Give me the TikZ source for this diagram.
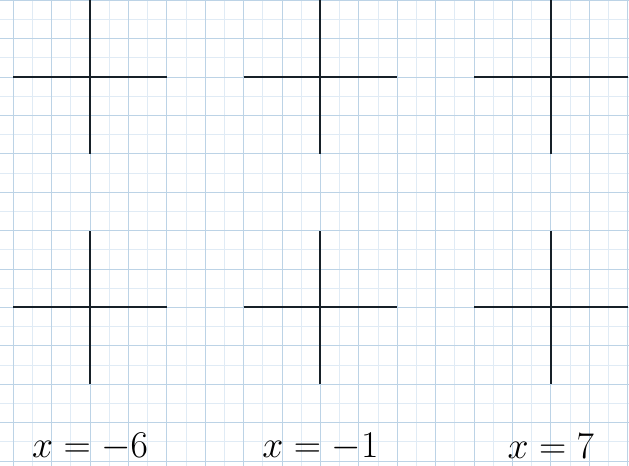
\documentclass[tikz,border=0pt]{standalone}
\usepackage{fix-cm}
\usepackage{amsmath}
\usepackage{xcolor}
\usepackage{tikz}
\definecolor{gridminor}{RGB}{224,235,245}
\definecolor{gridmajor}{RGB}{188,211,230}
\definecolor{axiscol}{RGB}{22,32,40}
\tikzset{
	axisline/.style={line width=1.5pt,color=axiscol},
	xlabel/.style={font=\fontsize{28}{34}\selectfont}
}
\begin{document}
\begin{tikzpicture}
	\useasboundingbox (-2.344,-10.13) rectangle (14.036,2.005);
	\draw[gridminor,line width=0.5pt,step=0.5] (-2.344,-10.13) grid (14.036,2.005);
	\draw[gridmajor,line width=0.6pt,step=1] (-2.344,-10.13) grid (14.036,2.005);
	\foreach \cx in {0,6,12}{
		\foreach \cy in {0,-6}{
			\draw[axisline] (\cx-2,\cy)--(\cx+2,\cy);
			\draw[axisline] (\cx,\cy-2)--(\cx,\cy+2);
		}
	}
	\node[xlabel] (lab1) at (0,-9.62) {$x=-6$};
	\node[xlabel] (lab2) at (6,-9.62) {$x=-1$};
	\node[xlabel] (lab3) at (12,-9.62) {$x=7$};
\end{tikzpicture}
\end{document}
